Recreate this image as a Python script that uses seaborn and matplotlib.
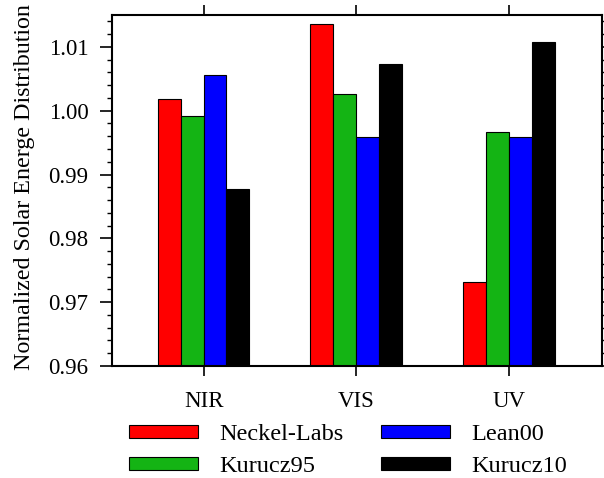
import numpy as np
import pandas as pd
import matplotlib
matplotlib.use("Agg")
import matplotlib.pyplot as plt
from matplotlib.ticker import MultipleLocator
import seaborn as sns

# --- dados ---
bands = ["NIR", "VIS", "UV"]
datasets = ["Neckel-Labs", "Kurucz95", "Lean00", "Kurucz10"]
neckel_labs = [1.0018, 1.0136, 0.9731]
kurucz95 = [0.9992, 1.0026, 0.9966]
lean00 = [1.0056, 0.9959, 0.9959]
kurucz10 = [0.9878, 1.0073, 1.0107]
colors = ["#ff0000", "#14b414", "#0000ff", "#000000"]

df = pd.DataFrame({
    "band": bands * 4,
    "dataset": np.repeat(datasets, len(bands)),
    "value": neckel_labs + kurucz95 + lean00 + kurucz10,
})

sns.set_theme(style="ticks")
plt.rcParams["font.family"] = ["Liberation Serif", "DejaVu Serif"]
plt.rcParams["text.color"] = "black"
plt.rcParams["xtick.color"] = "black"
plt.rcParams["ytick.color"] = "black"
plt.rcParams["axes.labelcolor"] = "black"

fig = plt.figure(figsize=(6.04, 4.78), dpi=100)
ax = fig.add_axes([112 / 604, 1 - 366 / 478, 490 / 604, 351 / 478])

sns.barplot(data=df, x="band", y="value", hue="dataset", hue_order=datasets,
            palette=colors, saturation=1, width=0.6, gap=0, edgecolor="black",
            linewidth=0.8, ax=ax, legend=True)

ax.set_ylim(0.96, 1.015)
ax.set_xlim(-0.6, 2.61)
ax.yaxis.set_minor_locator(MultipleLocator(0.002))
yt = np.arange(0.96, 1.0101, 0.01)
ax.set_yticks(yt)
ax.set_yticklabels(["%.2f" % v for v in yt])
ax.set_xlabel("")
ax.set_ylabel("Normalized Solar Energe Distribution", fontsize=17.3)
ax.yaxis.set_label_coords(-0.157, 0.51)

for s in ax.spines.values():
    s.set_linewidth(1.5)
    s.set_color("black")
ax.tick_params(axis="y", which="major", direction="out", length=9, width=1.2,
               labelsize=16.5, pad=8, left=True, right=True)
ax.tick_params(axis="y", which="minor", direction="out", length=3.6, width=1.0,
               left=True, right=True)
ax.tick_params(axis="x", which="major", direction="out", length=7, width=1.2,
               labelsize=16.5, pad=11, bottom=True, top=True)

handles, labels = ax.get_legend_handles_labels()
ax.get_legend().remove()
fig.legend(handles, labels, loc="upper left",
           bbox_to_anchor=(129 / 604, 1 - 424 / 478), ncol=2, frameon=False,
           fontsize=17.5, handlelength=2.85, handleheight=0.42, handletextpad=0.85,
           columnspacing=1.55, labelspacing=0.45, borderpad=0, borderaxespad=0)

fig.savefig("out.png", dpi=100)
